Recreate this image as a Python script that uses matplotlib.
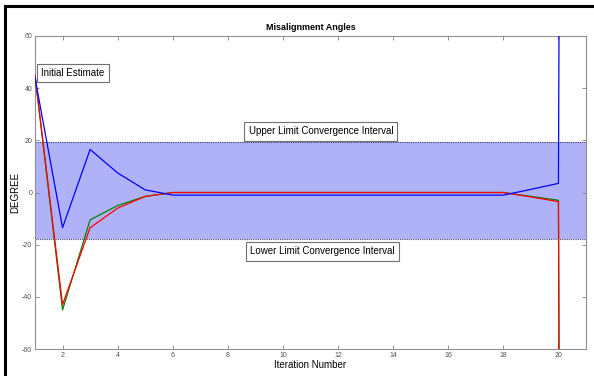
import matplotlib
matplotlib.use("Agg")
import matplotlib.pyplot as plt
from matplotlib.lines import Line2D

plt.rcParams['font.family'] = ['Liberation Sans', 'DejaVu Sans']
plt.rcParams['axes.unicode_minus'] = False

iterations = [1, 2, 3, 4, 5, 6, 7, 8, 9, 10, 11, 12, 13, 14, 15, 16, 17, 18, 19, 20, 20.05]
blue = [44, -13.5, 16.5, 7.5, 1, -1, -1, -1, -1, -1, -1, -1, -1, -1, -1, -1, -1, -1, 1.2, 3.5, 150]
green = [45, -45, -10.5, -5, -1.5, 0, 0, 0, 0, 0, 0, 0, 0, 0, 0, 0, 0, 0, -1.5, -3, -150]
red = [45, -43, -13.5, -6, -1.5, 0, 0, 0, 0, 0, 0, 0, 0, 0, 0, 0, 0, 0, -1.7, -3.5, -150]
band_upper = 19.2
band_lower = -17.9
x_ticks = [2, 4, 6, 8, 10, 12, 14, 16, 18, 20]
y_ticks = [-60, -40, -20, 0, 20, 40, 60]

fig = plt.figure(figsize=(5.94, 3.76), dpi=100)
ax = fig.add_axes([35/594, 27/376, 551/594, 313/376])

ax.axhspan(band_lower, band_upper, facecolor='#b0b2f8', edgecolor='none', zorder=1)
ax.axhline(band_upper, color='#404060', lw=0.8, ls=(0, (1, 1)), zorder=2)
ax.axhline(band_lower, color='#404060', lw=0.8, ls=(0, (1, 1)), zorder=2)

ax.plot(iterations, green, color='#008000', lw=0.9, zorder=3)
ax.plot(iterations, red, color='#ff0000', lw=0.9, zorder=4)
ax.plot(iterations, blue, color='#0000ff', lw=0.9, zorder=5)

ax.set_xlim(1, 21)
ax.set_ylim(-60, 60)
ax.set_xticks(x_ticks)
ax.set_yticks(y_ticks)
ax.tick_params(direction='in', length=3, width=0.6, colors='#808080', labelsize=5,
               top=True, right=True, pad=2)
ax.tick_params(labelcolor='#505050')
for s in ax.spines.values():
    s.set_color('#909090')
    s.set_linewidth(0.8)

box = dict(facecolor='white', edgecolor='#707070', boxstyle='square,pad=0.45', lw=0.8)
ax.text(1.22, 45.8, 'Initial Estimate', fontsize=7, va='center', ha='left', bbox=box, zorder=6)
ax.text(8.75, 23.4, 'Upper Limit Convergence Interval', fontsize=7, va='center', ha='left', bbox=box, zorder=6)
ax.text(8.82, -22.6, 'Lower Limit Convergence Interval', fontsize=7, va='center', ha='left', bbox=box, zorder=6)

ax.set_title('Misalignment Angles', fontsize=6.5, fontweight='bold', pad=4)
ax.set_xlabel('Iteration Number', fontsize=7, labelpad=1)
ax.set_ylabel('DEGREE', fontsize=7)
ax.yaxis.set_label_coords(-15/551, 0.5)

# figure border (top and left)
fig.add_artist(Line2D([5/594, 1], [1 - 6/376, 1 - 6/376], color='black', lw=2.2, transform=fig.transFigure))
fig.add_artist(Line2D([5/594, 5/594], [0, 1 - 6/376], color='black', lw=2.2, transform=fig.transFigure))

fig.savefig('out.png', dpi=100)
